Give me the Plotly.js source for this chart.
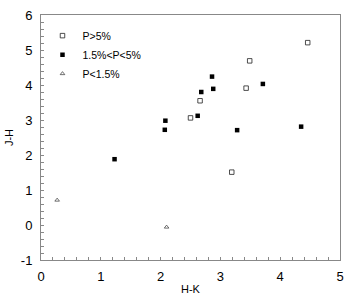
<!DOCTYPE html>
<html><head><meta charset="utf-8">
<script src="https://cdn.plot.ly/plotly-3.0.1.min.js"></script>
<style>html,body{margin:0;padding:0;background:#fff}#c{width:347px;height:300px}</style>
</head><body><div id="c"></div>
<script>
var names = ["P>5%", "1.5%<P<5%", "P<1.5%"];
var hiX = [4.46, 3.49, 3.43, 2.66, 2.50, 3.19];
var hiY = [5.21, 4.69, 3.91, 3.55, 3.06, 1.51];
var midX = [2.86, 2.68, 2.88, 3.71, 2.08, 2.07, 2.62, 3.28, 4.35, 1.23];
var midY = [4.24, 3.80, 3.89, 4.03, 2.98, 2.72, 3.12, 2.71, 2.81, 1.88];
var loX = [0.27, 2.10];
var loY = [0.71, -0.06];
var xTicks = [0, 1, 2, 3, 4, 5];
var yTicks = [-1, 0, 1, 2, 3, 4, 5, 6];

var traces = [
  {x: hiX, y: hiY, name: names[0], mode: 'markers', type: 'scatter',
   marker: {symbol: 'square-open', size: 4.5, color: '#222', line: {width: 0.8, color: '#222'}}},
  {x: midX, y: midY, name: names[1], mode: 'markers', type: 'scatter',
   marker: {symbol: 'square', size: 4.5, color: '#000'}},
  {x: loX, y: loY, name: names[2], mode: 'markers', type: 'scatter',
   marker: {symbol: 'triangle-up-open', size: 4, color: '#333', line: {width: 0.7, color: '#333'}}}
];
var font = 'Liberation Sans, Arial, sans-serif';
var axisCommon = {
  showgrid: false, zeroline: false, showline: true, mirror: true,
  linecolor: '#888', linewidth: 1, ticks: 'inside', ticklen: 3, tickcolor: '#888',
  tickfont: {family: font, size: 13, color: '#000'}
};
var layout = {
  width: 347, height: 300,
  margin: {l: 41, r: 7, t: 15, b: 40},
  paper_bgcolor: '#fff', plot_bgcolor: '#fff',
  showlegend: true,
  legend: {x: 0.005, y: 0.975, xanchor: 'left', yanchor: 'top', bgcolor: 'rgba(0,0,0,0)',
    font: {family: font, size: 10.5, color: '#000'},
    itemwidth: 30, tracegroupgap: 0},
  xaxis: Object.assign({}, axisCommon, {
    range: [0, 5], tickvals: xTicks, ticktext: xTicks.map(String), ticklabelstandoff: 4,
    minor: {dtick: 0.2, ticks: 'inside', ticklen: 3, tickcolor: '#888'},
    title: {text: 'H-K', standoff: 2, font: {family: font, size: 11, color: '#000'}}
  }),
  yaxis: Object.assign({}, axisCommon, {
    range: [-1, 6], tickvals: yTicks, ticktext: yTicks.map(String), ticklabelstandoff: 5,
    minor: {dtick: 0.2, ticks: 'inside', ticklen: 3, tickcolor: '#888'},
    title: {text: 'J-H', standoff: 4, font: {family: font, size: 11, color: '#000'}}
  })
};
Plotly.newPlot('c', traces, layout, {staticPlot: true, displayModeBar: false});
</script></body></html>
